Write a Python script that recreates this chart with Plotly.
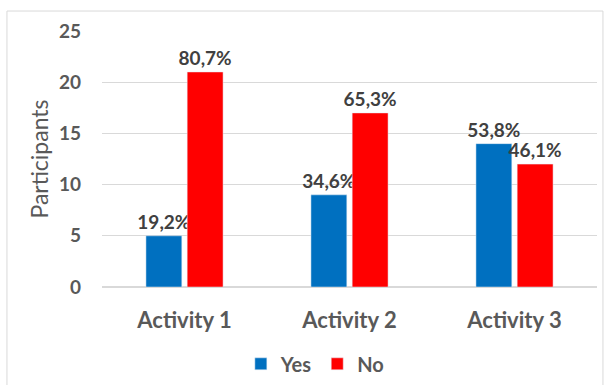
import plotly.graph_objects as go

categories = ["Activity 1", "Activity 2", "Activity 3"]
yes_values = [5, 9, 14]
no_values = [21, 17, 12]
yes_labels = ["19,2%", "34,6%", "53,8%"]
no_labels = ["80,7%", "65,3%", "46,1%"]

FONT = "Lato, 'Open Sans', sans-serif"
LABEL_FONT = dict(family=FONT, size=19, color="#404040", weight="bold")

fig = go.Figure()
fig.add_trace(go.Bar(
    x=categories, y=yes_values, name="Yes", marker_color="#0070C0",
    text=yes_labels, textposition="outside", cliponaxis=False, constraintext="none",
    textfont=LABEL_FONT,
))
fig.add_trace(go.Bar(
    x=categories, y=no_values, name="No", marker_color="#FF0000",
    text=no_labels, textposition="outside", cliponaxis=False, constraintext="none",
    textfont=LABEL_FONT,
))

fig.update_layout(
    width=604, height=385,
    margin=dict(l=102, r=7, t=31, b=98, autoexpand=False),
    paper_bgcolor="white", plot_bgcolor="white",
    barmode="group", bargap=0.5, bargroupgap=0.13,
    font=dict(family=FONT, color="#595959"),
    showlegend=True,
    legend=dict(orientation="h", x=0.43, xanchor="center", y=-0.3, yanchor="middle",
                font=dict(family=FONT, size=20, color="#595959", weight="bold"),
                itemwidth=30, tracegroupgap=0),
    shapes=[dict(type="rect", xref="paper", yref="paper",
                 x0=-0.192, x1=1.012, y0=-0.45, y1=1.078,
                 line=dict(color="#D9D9D9", width=1), fillcolor="rgba(0,0,0,0)", layer="below")],
)
fig.update_yaxes(
    range=[0, 25], dtick=5, showgrid=True, gridcolor="#D9D9D9", gridwidth=1,
    zeroline=True, zerolinecolor="#D9D9D9", showline=False,
    tickfont=dict(family=FONT, size=19, color="#595959", weight="bold"),
    ticklabelstandoff=20,
    title=dict(text="Participants", font=dict(family=FONT, size=23, color="#595959"), standoff=3),
)
fig.update_xaxes(
    showgrid=False, showline=False, ticks="",
    tickfont=dict(family=FONT, size=22, color="#595959", weight="bold"),
    ticklabelstandoff=18,
)

fig.write_html("out.html")
